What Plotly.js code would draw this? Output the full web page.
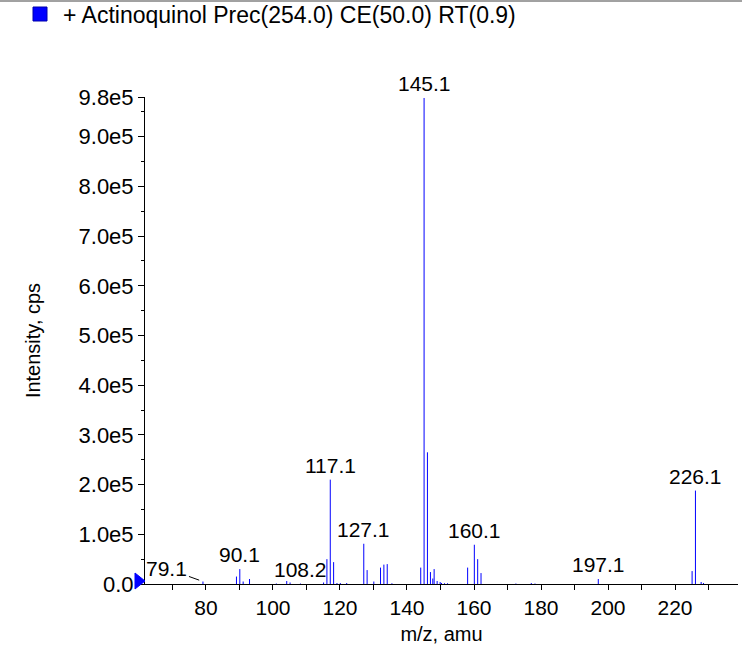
<!DOCTYPE html>
<html>
<head>
<meta charset="utf-8">
<script src="https://cdn.plot.ly/plotly-3.0.1.min.js"></script>
<style>html,body{margin:0;padding:0;background:#fff}#chart{width:742px;height:647px}</style>
</head>
<body>
<div id="chart"></div>
<script>
// Peak list: m/z and intensity (cps)
var mz = [79.1, 89.1, 90.1, 91.1, 93.0, 101.0, 104.1, 105.1, 108.2, 115.1, 116.1, 117.1, 118.1, 119.1, 120.1, 122.0,
          127.1, 128.1, 130.1, 132.1, 133.1, 134.1, 135.5, 144.1, 145.1, 146.1, 147.0, 147.7, 148.1, 149.0, 149.9,
          150.3, 151.2, 152.1, 158.1, 160.1, 161.1, 162.1, 172.5, 177.1, 178.2, 197.1, 225.1, 226.1, 227.8, 228.5];
var intensity = [5000, 15000, 30000, 5000, 10000, 1000, 6000, 3000, 1000, 3000, 50000, 210000, 44000, 2000, 2000, 2000,
          81000, 28000, 5000, 33000, 39000, 40000, 1500, 33000, 978000, 265000, 24000, 11000, 30000, 6000, 4000,
          2000, 1500, 1500, 33000, 79000, 50000, 22000, 1000, 2000, 1000, 10000, 26000, 188000, 4000, 2000];

// Labelled peaks
var labelMz = [90.1, 108.2, 117.1, 127.1, 145.1, 160.1, 197.1, 226.1];
var labelText = ["90.1", "108.2", "117.1", "127.1", "145.1", "160.1", "197.1", "226.1"];
var leaderMz = 79.1, leaderText = "79.1";

var xTicks = [80, 100, 120, 140, 160, 180, 200, 220];
var yTicks = [0, 100000, 200000, 300000, 400000, 500000, 600000, 700000, 800000, 900000, 980000];
var yTickText = ["0.0", "1.0e5", "2.0e5", "3.0e5", "4.0e5", "5.0e5", "6.0e5", "7.0e5", "8.0e5", "9.0e5", "9.8e5"];
var xRange = [61.8, 238.8];
var yMax = 980000;

var seriesName = "+ Actinoquinol Prec(254.0) CE(50.0) RT(0.9)";

// stick build
var sx = [], sy = [];
for (var i = 0; i < mz.length; i++) { sx.push(mz[i], mz[i], null); sy.push(0, intensity[i], null); }
function inten(m) { return intensity[mz.indexOf(m)]; }

var W = 742, H = 647, L = 145, R = 4, T = 97, B = 63;
var pw = W - L - R, ph = H - T - B;
function px(x) { return (x - L) / pw; }
function py(y) { return (H - B - y) / ph; }

var FONT = "Liberation Sans, Arial, Helvetica, sans-serif";

var annotations = labelMz.map(function (m, k) {
  return { x: m, y: inten(m), text: labelText[k], showarrow: false, xanchor: "center", yanchor: "bottom",
           yshift: 1, font: { size: 21, color: "#000", family: FONT } };
});
annotations.push({ x: leaderMz, y: inten(leaderMz), text: leaderText, showarrow: true, arrowhead: 0,
  arrowwidth: 1, arrowcolor: "#000", ax: -36, ay: -13, standoff: 4, font: { size: 21, color: "#000", family: FONT } });
annotations.push({ xref: "paper", yref: "paper", x: px(61), y: py(15), xanchor: "left", yanchor: "middle",
  text: seriesName, showarrow: false, font: { size: 23, color: "#000", family: FONT } });

var data = [
  { type: "scatter", mode: "lines", x: sx, y: sy, line: { color: "#0000ff", width: 1 }, hoverinfo: "skip", showlegend: false }
];

// precursor pointer triangle (decorative, paper coords)
var tri = "M" + px(135) + "," + py(573) + " L" + px(145) + "," + py(581) + " L" + px(135) + "," + py(589) + " Z";

var layout = {
  width: W, height: H,
  margin: { l: L, r: R, t: T, b: B },
  paper_bgcolor: "#fff", plot_bgcolor: "#fff",
  font: { family: FONT, color: "#000" },
  showlegend: false,
  xaxis: {
    range: xRange, tickmode: "array", tickvals: xTicks, ticks: "outside", ticklen: 5, tickcolor: "#000",
    minor: { dtick: 10, tick0: 0, ticks: "outside", ticklen: 5, tickcolor: "#000", showgrid: false },
    showline: true, linecolor: "#000", linewidth: 1, showgrid: false, zeroline: false,
    tickfont: { size: 21, family: FONT, color: "#000" },
    title: { text: "m/z, amu", font: { size: 20, family: FONT, color: "#000" }, standoff: 8 }
  },
  yaxis: {
    range: [0, yMax], tickmode: "array", tickvals: yTicks, ticktext: yTickText, ticks: "outside", ticklen: 6, tickcolor: "#000",
    minor: { dtick: 50000, tick0: 0, ticks: "outside", ticklen: 3, tickcolor: "#000", showgrid: false },
    showline: true, linecolor: "#000", linewidth: 1, showgrid: false, zeroline: false,
    tickfont: { size: 22, family: FONT, color: "#000" },
    automargin: true,
    title: { text: "Intensity, cps", font: { size: 20, family: FONT, color: "#000" }, standoff: 32 }
  },
  shapes: [
    { type: "line", xref: "paper", yref: "paper", x0: px(0), x1: px(W), y0: py(1), y1: py(1), line: { color: "#444", width: 1 } },
    { type: "rect", xref: "paper", yref: "paper", x0: px(33), x1: px(47), y0: py(21), y1: py(7), fillcolor: "#0000ff", line: { color: "#0000aa", width: 1 } },
    { type: "path", xref: "paper", yref: "paper", path: tri, fillcolor: "#0000ff", line: { color: "#0000ff", width: 1 }, layer: "above" }
  ],
  annotations: annotations
};

Plotly.newPlot("chart", data, layout, { displayModeBar: false, staticPlot: true });
</script>
</body>
</html>
